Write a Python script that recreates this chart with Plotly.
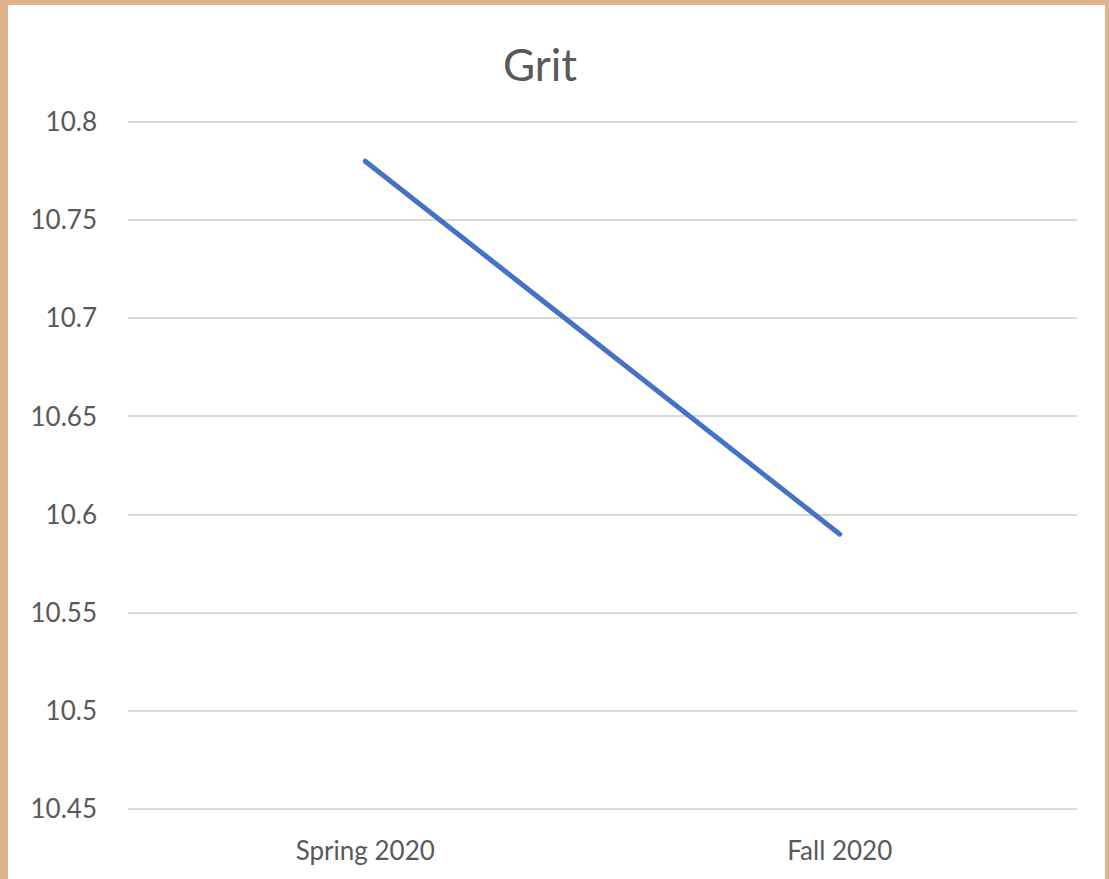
import plotly.graph_objects as go

# data
terms = ["Spring 2020", "Fall 2020"]
grit = [10.78, 10.59]
y_ticks = [10.45, 10.5, 10.55, 10.6, 10.65, 10.7, 10.75, 10.8]

W, H = 1109, 879
ml, mr, mt, mb = 128, 32, 120, 68
pw, ph = W - ml - mr, H - mt - mb

# pad the y range by 2px each side so edge gridlines aren't clipped
pad = 2 * (0.35 / (ph - 4))
y_range = [y_ticks[0] - pad, y_ticks[-1] + pad]

fig = go.Figure()
fig.add_trace(go.Scatter(
    x=terms, y=grit, mode="lines",
    line=dict(color="#4472C4", width=5),
    showlegend=False,
))

# tan frame on left / top / right, white card inside
fig.add_shape(
    type="rect", xref="paper", yref="paper", layer="below",
    x0=(8 - ml) / pw, x1=(1105 - ml) / pw,
    y0=-(mb + 5) / ph, y1=(ph + mt - 5) / ph,
    fillcolor="white", line=dict(width=0),
)

fig.update_layout(
    width=W, height=H,
    margin=dict(l=ml, r=mr, t=mt, b=mb),
    paper_bgcolor="#DFB48D",
    plot_bgcolor="rgba(0,0,0,0)",
    font=dict(family="Lato, Open Sans, sans-serif", color="#595959", size=26),
    title=dict(text="Grit", x=540 / W, xanchor="center", y=1 - 66 / H,
               yanchor="middle", font=dict(size=44, color="#595959")),
    xaxis=dict(range=[-0.5, 1.5], showgrid=False, zeroline=False,
               showline=False, ticks="", ticklabelstandoff=22),
    yaxis=dict(range=y_range, tickvals=y_ticks,
               ticktext=[f"{v:g}" for v in y_ticks],
               showgrid=True, gridcolor="#D9D9D9", gridwidth=1.5,
               zeroline=False, showline=False, ticks="", ticklabelstandoff=30),
)

fig.write_html(
    "out.html",
    config={"displayModeBar": False},
    post_script="document.body.style.margin='0';"
                "document.querySelectorAll('.scatterlayer path.js-line')"
                ".forEach(function(p){p.style.strokeLinecap='round';});",
)
